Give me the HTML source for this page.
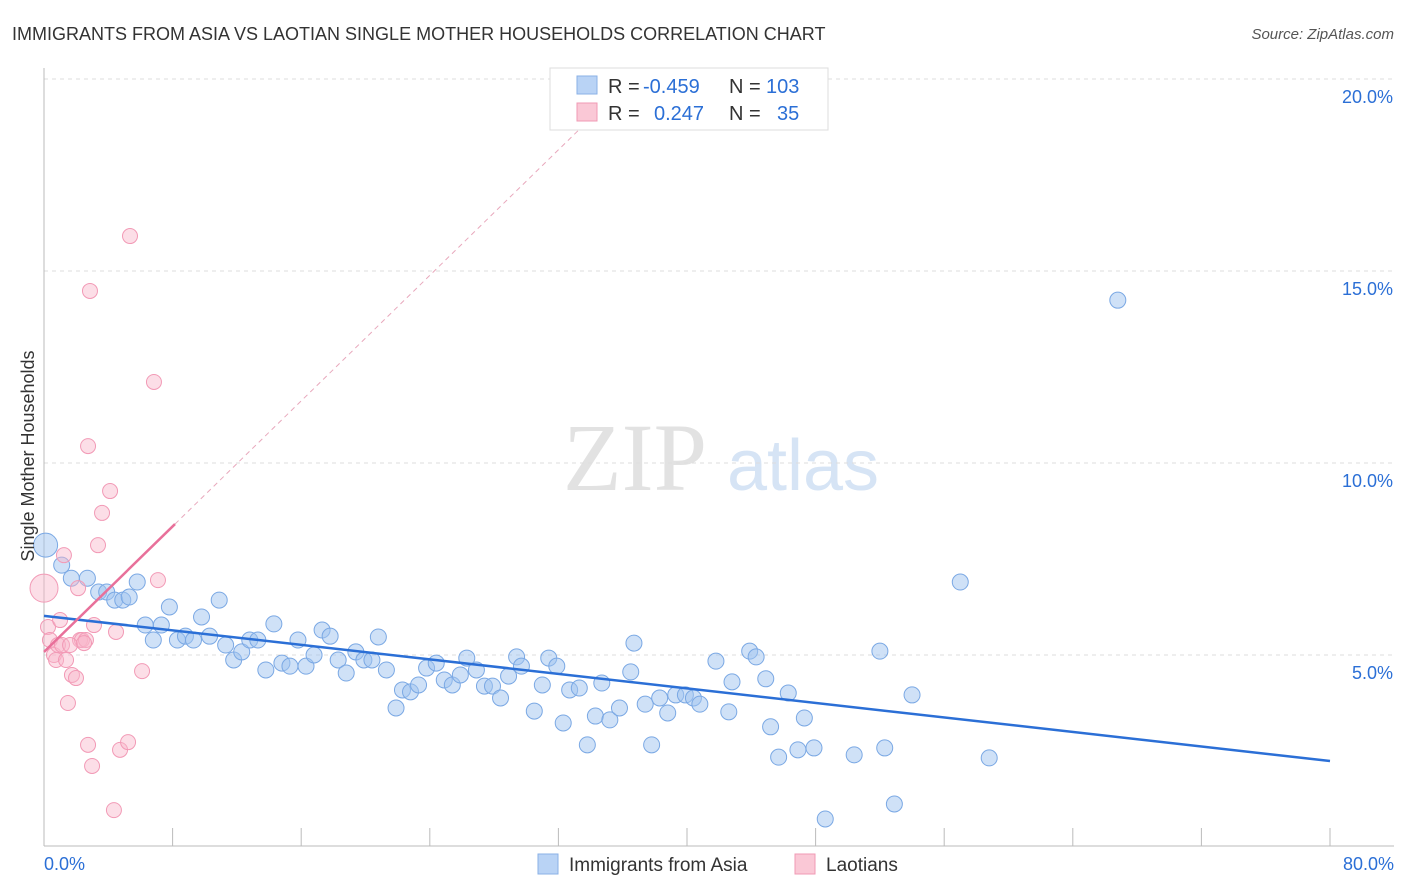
<!DOCTYPE html>
<html><head><meta charset="utf-8"><style>
body{margin:0;background:#fff;font-family:"Liberation Sans",sans-serif;}
svg{display:block}
</style></head><body>
<svg id="chart" width="1406" height="892">
<text x="12" y="40" font-size="18" fill="#333">IMMIGRANTS FROM ASIA VS LAOTIAN SINGLE MOTHER HOUSEHOLDS CORRELATION CHART</text>
<text x="1394" y="39" font-size="15" fill="#555" font-style="italic" text-anchor="end">Source: ZipAtlas.com</text>
<text x="635" y="490" font-size="96" fill="#e2e2e2" font-family="Liberation Serif,serif" text-anchor="middle">ZIP</text>
<text x="803" y="490" font-size="72" fill="#d6e4f5" text-anchor="middle">atlas</text>
<g id="grid"></g>
<g id="axes"></g>
<g id="marks"></g>
<text transform="translate(34,456) rotate(-90)" font-size="18" fill="#333" text-anchor="middle">Single Mother Households</text>
<g>
<rect x="550" y="68" width="278" height="62" fill="#fff" stroke="#ddd"/>
<rect x="577" y="76" width="20" height="18" fill="#b9d3f5" stroke="#8ab0e6"/>
<rect x="577" y="103" width="20" height="18" fill="#fac8d6" stroke="#f09ab4"/>
<text x="608" y="93" font-size="20" fill="#333">R =</text>
<text x="643" y="93" font-size="20" fill="#2b6fd6">-0.459</text>
<text x="729" y="93" font-size="20" fill="#333">N =</text>
<text x="766" y="93" font-size="20" fill="#2b6fd6">103</text>
<text x="608" y="120" font-size="20" fill="#333">R =</text>
<text x="654" y="120" font-size="20" fill="#2b6fd6">0.247</text>
<text x="729" y="120" font-size="20" fill="#333">N =</text>
<text x="777" y="120" font-size="20" fill="#2b6fd6">35</text>
</g>
<g>
<rect x="538" y="854" width="20" height="20" fill="#b9d3f5" stroke="#8ab0e6"/>
<text x="569" y="871" font-size="19" fill="#333">Immigrants from Asia</text>
<rect x="795" y="854" width="20" height="20" fill="#fac8d6" stroke="#f09ab4"/>
<text x="826" y="871" font-size="19" fill="#333">Laotians</text>
</g>
</svg>
<script>
const blueX=[0.1,1.1,1.7,2.7,3.4,3.9,4.4,4.9,5.3,5.8,6.3,6.8,7.3,7.8,8.3,8.8,9.3,9.8,10.3,10.9,11.3,11.8,12.3,12.8,13.3,13.8,14.3,14.8,15.3,15.8,16.3,16.8,17.3,17.8,18.3,18.8,19.4,19.9,20.4,20.8,21.3,21.9,22.3,22.8,23.3,23.8,24.4,24.9,25.4,25.9,26.3,26.9,27.4,27.9,28.4,28.9,29.4,29.7,30.5,31.0,31.4,31.9,32.3,32.7,33.3,33.8,34.3,34.7,35.2,35.8,36.5,36.7,37.4,37.8,38.3,38.8,39.3,39.9,40.4,40.8,41.8,42.6,42.8,43.9,44.3,44.9,45.2,45.7,46.3,46.9,47.3,47.9,48.6,50.4,52.0,52.3,52.9,54.0,57.0,58.8,66.8];
const blueY=[7.86,7.34,7.0,7.0,6.64,6.64,6.43,6.43,6.51,6.9,5.78,5.39,5.78,6.25,5.39,5.49,5.39,5.99,5.49,6.43,5.26,4.87,5.08,5.39,5.39,4.61,5.81,4.79,4.71,5.39,4.71,5.0,5.65,5.49,4.87,4.53,5.08,4.87,4.87,5.47,4.61,3.62,4.09,4.04,4.22,4.66,4.79,4.35,4.22,4.48,4.92,4.61,4.19,4.19,3.88,4.45,4.95,4.71,3.54,4.22,4.92,4.71,3.23,4.09,4.14,2.66,3.41,4.27,3.31,3.62,4.56,5.31,3.72,2.66,3.88,3.49,3.96,3.96,3.88,3.72,4.84,3.52,4.3,5.1,4.95,4.38,3.13,2.34,4.01,2.53,3.36,2.58,0.73,2.4,5.1,2.58,1.12,3.96,6.9,2.32,14.24];
const pinkX=[0,0.25,0.37,0.62,0.75,0.87,1.0,1.12,1.24,1.37,1.49,1.74,1.99,2.12,2.24,2.36,2.61,2.74,2.86,2.99,3.11,3.36,3.61,4.11,4.35,4.48,4.73,5.23,5.35,6.1,6.84,7.09,2.74,1.62,2.49];
const pinkY=[6.74,5.73,5.39,5.0,4.87,5.26,5.91,5.26,7.6,4.87,3.75,4.48,4.4,6.74,5.39,5.39,5.39,2.66,14.48,2.11,5.78,7.86,8.7,9.27,0.96,5.6,2.53,2.73,15.91,4.58,12.11,6.95,10.44,5.26,5.31];
const yTicks=[5,10,15,20];
const xTicks=[0,8,16,24,32,40,48,56,64,72,80];
const blueFit=[6.02,2.24];
const pinkFit=[5.08,8.41,8.15];
const sx=v=>44+v*16.075, sy=v=>847-v*38.4;
const NS='http://www.w3.org/2000/svg';
function mk(t,a,p){const e=document.createElementNS(NS,t);for(const k in a)e.setAttribute(k,a[k]);p.appendChild(e);return e;}
const grid=document.getElementById('grid'),axes=document.getElementById('axes'),marks=document.getElementById('marks');
yTicks.forEach(t=>{
 const l=mk('line',{x1:44,x2:1394,y1:sy(t),y2:sy(t),stroke:'#ddd','stroke-dasharray':'4,4'},grid);
 
 
 const tx=mk('text',{x:1393,y:sy(t)+24,'font-size':18,fill:'#2b6fd6','text-anchor':'end'},axes);
 tx.textContent=t.toFixed(1)+'%';
 
 
});
mk('line',{x1:44,x2:44,y1:68,y2:846,stroke:'#bbb'},axes);
mk('line',{x1:44,x2:1394,y1:846,y2:846,stroke:'#bbb'},axes);
xTicks.forEach(t=>{
 const l=mk('line',{x1:sx(t),x2:sx(t),y1:828,y2:846,stroke:'#bbb'},axes);
 
 
});
[[0,'0.0%','start',44],[80,'80.0%','end',1394]].forEach(d=>{
 const tx=mk('text',{x:d[3],y:870,'font-size':18,fill:'#2b6fd6','text-anchor':d[2]},axes);
 tx.textContent=d[1];
 
 
});
blueX.forEach((x,i)=>{
 const c=mk('circle',{cx:sx(x),cy:sy(blueY[i]),r:i==0?12:8,fill:'rgba(160,196,240,0.5)',stroke:'#7aa8e4','stroke-width':1},marks);
 
 
});
pinkX.forEach((x,i)=>{
 const c=mk('circle',{cx:sx(x),cy:sy(pinkY[i]),r:i==0?14:7.5,fill:'rgba(248,182,202,0.45)',stroke:'#f29ab6','stroke-width':1},marks);
 
 
});
const slope=(pinkFit[1]-pinkFit[0])/pinkFit[2];
const dl=mk('line',{x1:sx(pinkFit[2]),y1:sy(pinkFit[1]),x2:sx(34),y2:sy(pinkFit[0]+slope*34),stroke:'#e8a8bc','stroke-dasharray':'5,4'},marks);


const bl=mk('line',{x1:sx(0),y1:sy(blueFit[0]),x2:sx(80),y2:sy(blueFit[1]),stroke:'#2b6fd6','stroke-width':2.5},marks);


const pl=mk('line',{x1:sx(0),y1:sy(pinkFit[0]),x2:sx(pinkFit[2]),y2:sy(pinkFit[1]),stroke:'#e8709a','stroke-width':2.5},marks);


</script>
</body></html>
